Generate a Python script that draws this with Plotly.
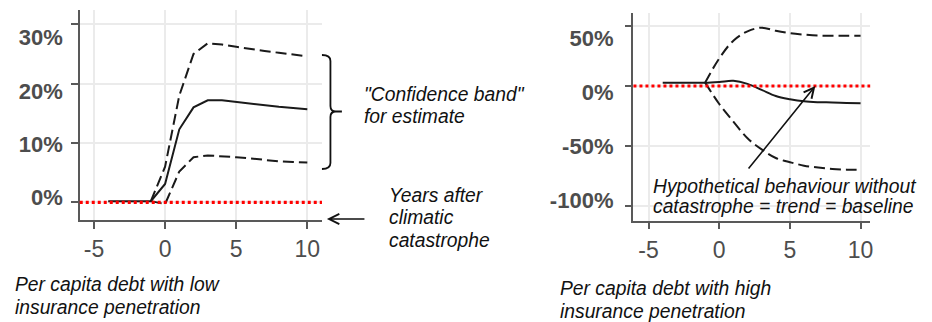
import plotly.graph_objects as go

# Years relative to the climatic catastrophe
years = [-4, -3, -2, -1, 0, 1, 2, 3, 4, 5, 6, 7, 8, 9, 10]

# Per capita debt response (%), low insurance penetration
low_estimate = [0.2, 0.2, 0.2, 0.2, 3.1, 12.3, 16.0, 17.2, 17.2, 16.9, 16.6, 16.4, 16.1, 15.9, 15.7]
low_upper = [None, None, None, 0.2, 6.0, 18.0, 25.0, 26.8, 26.6, 26.2, 25.8, 25.5, 25.2, 24.9, 24.6]
low_lower = [None, None, None, 0.2, -0.3, 5.2, 7.6, 7.9, 7.8, 7.6, 7.4, 7.1, 6.9, 6.8, 6.7]

# Per capita debt response (%), high insurance penetration
high_estimate = [2.8, 2.8, 2.8, 2.8, 3.4, 4.3, 1.8, -3.2, -8.3, -11.0, -12.8, -13.5, -13.7, -14.1, -14.4]
high_upper = [None, None, None, 2.8, 23.0, 37.8, 45.6, 48.6, 46.0, 44.0, 42.8, 42.0, 41.9, 41.9, 41.9]
high_lower = [None, None, None, 2.8, -15.0, -29.7, -43.6, -52.8, -60.0, -63.5, -66.4, -68.0, -69.2, -69.7, -69.8]

# No-catastrophe trend
baseline = 0

x_ticks = [-5, 0, 5, 10]
low_y_ticks = [0, 10, 20, 30]
high_y_ticks = [-100, -50, 0, 50]

W, H = 932, 322


def px(x):
    return x / W


def py(y):
    return 1 - y / H


def tick_text(vals, suffix=""):
    # plain hyphen for negatives
    return [f"{v}{suffix}" for v in vals]


FONT = "Liberation Sans, Arial, sans-serif"
AXIS_GREY = "#595959"
GRID = "#ebebeb"
LABEL_GREY = "#4d4d4d"
INK = "#1a1a1a"

fig = go.Figure()


def add_panel(xa, ya, est, upper, lower, shape):
    for band in (upper, lower):
        fig.add_trace(go.Scatter(x=years, y=band, mode="lines", xaxis=xa, yaxis=ya,
                                 line=dict(color=INK, width=2, dash="11px,5px", shape=shape),
                                 showlegend=False, hoverinfo="skip"))
    fig.add_trace(go.Scatter(x=years, y=est, mode="lines", xaxis=xa, yaxis=ya,
                             line=dict(color=INK, width=2, shape=shape),
                             showlegend=False, hoverinfo="skip"))


add_panel("x", "y", low_estimate, low_upper, low_lower, "linear")
add_panel("x2", "y2", high_estimate, high_upper, high_lower, "spline")

# empty traces that carry the percentage label axes
fig.add_trace(go.Scatter(x=[], y=[], xaxis="x", yaxis="y3", showlegend=False, hoverinfo="skip"))
fig.add_trace(go.Scatter(x=[], y=[], xaxis="x2", yaxis="y4", showlegend=False, hoverinfo="skip"))

# baseline (dotted red) across each panel
for xr, yr in (("x", "y"), ("x2", "y2")):
    fig.add_shape(type="line", xref=f"{xr} domain", yref=yr, x0=0, x1=1, y0=baseline, y1=baseline,
                  line=dict(color="#ff0000", width=3.2, dash="3px,3px"), layer="above")

common_axis = dict(type="linear", showgrid=True, gridcolor=GRID, gridwidth=2, zeroline=False,
                   showline=True, linecolor=AXIS_GREY, linewidth=1.6,
                   ticks="outside", ticklen=7, tickwidth=1.6, tickcolor=AXIS_GREY)

x_font = dict(family=FONT, size=23, color=LABEL_GREY)
y_font = dict(family=FONT, size=22, color=LABEL_GREY, weight="bold")

label_axis = dict(type="linear", side="left", showgrid=False, showline=False, zeroline=False,
                  ticks="", tickfont=y_font, tickmode="array")

layout_axes = dict(
    xaxis=dict(domain=[px(80), px(323)], anchor="y", range=[-6.0, 11.03], tickmode="array",
               tickvals=x_ticks, ticktext=tick_text(x_ticks),
               tickfont=x_font, ticklabelstandoff=1, **common_axis),
    yaxis=dict(domain=[py(220), py(10)], anchor="x", range=[-2.98, 32.41], tickvals=low_y_ticks,
               showticklabels=False, **common_axis),
    yaxis3=dict(overlaying="y", anchor="x", range=[-4.22, 35.16], tickvals=low_y_ticks,
                ticktext=tick_text(low_y_ticks, "%"), ticklabelstandoff=16, **label_axis),
    xaxis2=dict(domain=[px(635.5), px(873)], anchor="y2", range=[-6.07, 10.68], tickmode="array",
                tickvals=x_ticks, ticktext=tick_text(x_ticks),
                tickfont=x_font, ticklabelstandoff=1, **common_axis),
    yaxis2=dict(domain=[py(220.5), py(13.3)], anchor="x2", range=[-112.1, 60.6], tickvals=high_y_ticks,
                showticklabels=False, **common_axis),
    yaxis4=dict(overlaying="y2", anchor="x2", range=[-118.8, 73.4], tickvals=high_y_ticks,
                ticktext=tick_text(high_y_ticks, "%"), ticklabelstandoff=19, **label_axis),
)

fig.update_layout(width=W, height=H, margin=dict(l=0, r=0, t=0, b=0),
                  paper_bgcolor="white", plot_bgcolor="white", **layout_axes)

# italic explanatory notes, one annotation per line
notes = [
    ("\"Confidence band\"", 363, 94),
    ("for estimate", 363, 116.7),
    ("Years after", 388, 195),
    ("climatic", 388, 217.7),
    ("catastrophe", 388, 240),
    ("Per capita debt with low", 12.7, 284.3),
    ("insurance penetration", 12.7, 307.2),
    ("Hypothetical behaviour without", 653, 186.7),
    ("catastrophe = trend = baseline", 653, 206.5),
    ("Per capita debt with high", 560, 288.3),
    ("insurance penetration", 560, 311.4),
]
for text, x, y in notes:
    fig.add_annotation(text=f"<i>{text}</i>", xref="paper", yref="paper", x=px(x), y=py(y),
                       xanchor="left", yanchor="middle", showarrow=False,
                       font=dict(family=FONT, size=19.3, color="#111111"))

# arrow pointing at the time axis
fig.add_annotation(text="", xref="paper", yref="paper", x=px(328), y=py(219),
                   ax=39, ay=0, axref="pixel", ayref="pixel", showarrow=True,
                   arrowhead=5, arrowsize=1.25, arrowwidth=1.6, arrowcolor="#111111")

# arrow pointing at the baseline in the right panel
fig.add_annotation(text="", xref="x2", yref="y2", x=6.8, y=baseline,
                   ax=-68, ay=84, axref="pixel", ayref="pixel", showarrow=True,
                   arrowhead=5, arrowsize=1.25, arrowwidth=1.6, arrowcolor="#111111")

# curly brace marking the confidence band
pts = [
    ("M", [(323, 55)]),
    ("Q", [(331.5, 55), (331.5, 61)]),
    ("L", [(331.5, 106)]),
    ("Q", [(331.5, 111.5), (337, 111.5)]),
    ("L", [(343, 111.5)]),
    ("M", [(337, 111.5)]),
    ("Q", [(331.5, 111.5), (331.5, 117)]),
    ("L", [(331.5, 163)]),
    ("Q", [(331.5, 169), (323, 169)]),
]
path = " ".join(cmd + " " + " ".join(f"{px(a):.5f},{py(b):.5f}" for a, b in p) for cmd, p in pts)
fig.add_shape(type="path", xref="paper", yref="paper", path=path,
              line=dict(color="#111111", width=1.8))

fig.write_html("out.html")
